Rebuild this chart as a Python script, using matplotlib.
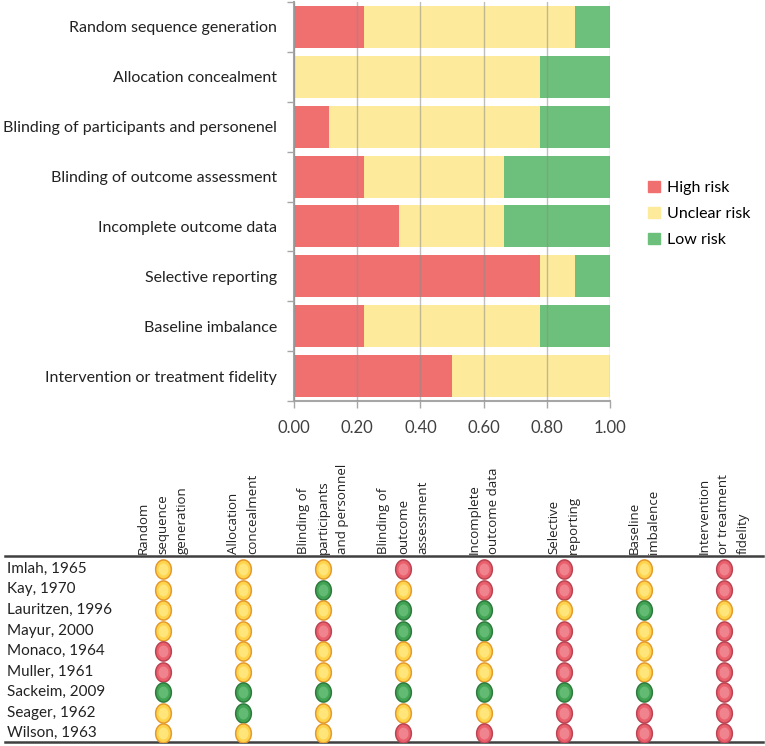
import numpy as np
import matplotlib
matplotlib.use("Agg")
from matplotlib import pyplot as plt
from matplotlib.patches import Patch

plt.rcParams['font.family'] = ['Lato', 'DejaVu Sans']

# risk of bias summary (fraction of studies per domain)
domains = ['Random sequence generation', 'Allocation concealment',
           'Blinding of participants and personenel', 'Blinding of outcome assessment',
           'Incomplete outcome data', 'Selective reporting', 'Baseline imbalance',
           'Intervention or treatment fidelity']
high = [0.222, 0.0, 0.111, 0.222, 0.333, 0.778, 0.222, 0.5]
unclear = [0.667, 0.778, 0.667, 0.444, 0.333, 0.111, 0.556, 0.5]
low = [0.111, 0.222, 0.222, 0.333, 0.333, 0.111, 0.222, 0.0]
xticks = [0.0, 0.2, 0.4, 0.6, 0.8, 1.0]

# per-study judgements (Y = unclear, R = high, G = low)
columns = ['Random\nsequence\ngeneration', 'Allocation\nconcealment',
           'Blinding of\nparticipants\nand personnel', 'Blinding of\noutcome\nassessment',
           'Incomplete\noutcome data', 'Selective\nreporting', 'Baseline\nimbalence',
           'Intervention\nor treatment\nfidelity']
studies = ['Imlah, 1965', 'Kay, 1970', 'Lauritzen, 1996', 'Mayur, 2000', 'Monaco, 1964',
           'Muller, 1961', 'Sackeim, 2009', 'Seager, 1962', 'Wilson, 1963']
judgements = ['YYYRRRYR', 'YYGYRRYR', 'YYYGGYGY', 'YYRGGRYR', 'RYYYYRYR',
              'RYYYYRYR', 'GGGGGGGR', 'YGYYYRRR', 'YYYRRRRR']

c_high, c_unclear, c_low = '#F07070', '#FDEB9B', '#6DC07B'

W, H = 765, 746
fig = plt.figure(figsize=(W / 100, H / 100), dpi=100)

# ---------- top: stacked bars ----------
ax = fig.add_axes([294 / W, 1 - 401 / H, (610 - 294) / W, 399 / H])
y = np.arange(len(domains))
high = np.array(high); unclear = np.array(unclear); low = np.array(low)
ax.barh(y, high, height=0.84, color=c_high, label='High risk')
ax.barh(y, unclear, left=high, height=0.84, color=c_unclear, label='Unclear risk')
ax.barh(y, low, left=high + unclear, height=0.84, color=c_low, label='Low risk')
ax.set_xlim(0, 1)
ax.set_ylim(len(domains) - 0.5, -0.5)
ax.set_xticks(xticks)
ax.set_xticklabels(['%.2f' % v for v in xticks], fontsize=12, color='#404040')
ax.set_yticks(y)
ax.set_yticklabels(domains, fontsize=11.5, color='#222222')
ax.set_yticks(np.arange(len(domains) + 1) - 0.5, minor=True)
ax.tick_params(axis='y', which='major', length=0, pad=12)
ax.tick_params(axis='y', which='minor', length=5, color='#a6a6a6', width=1)
ax.tick_params(axis='x', length=5, color='#a6a6a6', width=1, pad=9)
ax.xaxis.grid(True, color='#8c8c8c', alpha=0.55, lw=1)
ax.set_axisbelow(False)
for s in ['top', 'right']:
    ax.spines[s].set_visible(False)
for s in ['left', 'bottom']:
    ax.spines[s].set_color('#a6a6a6')
    ax.spines[s].set_linewidth(1.5)

handles = [Patch(color=c_high), Patch(color=c_unclear), Patch(color=c_low)]
fig.legend(handles, ['High risk', 'Unclear risk', 'Low risk'], loc='center left',
           bbox_to_anchor=(634 / W, 1 - 214 / H), frameon=False, fontsize=11.5,
           handlelength=0.7, handleheight=0.7, handletextpad=0.45, labelspacing=0.75)

# ---------- bottom: traffic light table ----------
tx = fig.add_axes([5 / W, 1 - 742 / H, 758 / W, 186 / H])
col_sp = 80.14
row_sp = 20.5
tx.set_xlim((5 - 163) / col_sp, (763 - 163) / col_sp)
tx.set_ylim(8 + (742 - 733) / row_sp, -(569 - 556) / row_sp)
tx.set_xticks([]); tx.set_yticks([])
for s in ['left', 'right']:
    tx.spines[s].set_visible(False)
for s in ['top', 'bottom']:
    tx.spines[s].set_color('#404040')
    tx.spines[s].set_linewidth(1.8)

face = {'Y': '#FFD44C', 'R': '#EA5F6C', 'G': '#41A454'}
edge = {'Y': '#E49A2C', 'R': '#BB4352', 'G': '#2E7A3D'}
inner = {'Y': '#FFE57A', 'R': '#F0848E', 'G': '#62BA73'}
t = np.linspace(0, 2 * np.pi, 60)
oval = list(zip(np.cos(t), 1.22 * np.sin(t)))

for i, row in enumerate(judgements):
    for j, code in enumerate(row):
        tx.scatter(j, i, marker=oval, s=190, color=face[code], edgecolor=edge[code],
                   linewidth=1.1, zorder=3)
        tx.scatter(j, i, marker=oval, s=75, color=inner[code], linewidth=0, zorder=4)
    tx.text(0.002, i, studies[i], transform=tx.get_yaxis_transform(), ha='left',
            va='center', fontsize=11, color='#222222')

for j, lab in enumerate(columns):
    tx.annotate(lab, xy=(j, 1), xycoords=('data', 'axes fraction'), xytext=(0, 1.5),
                textcoords='offset points', rotation=90, ha='center', va='bottom',
                multialignment='left', linespacing=1.65, fontsize=9.5,
                family=['Open Sans', 'DejaVu Sans'], color='#222222')

fig.savefig('out.png', dpi=100)
